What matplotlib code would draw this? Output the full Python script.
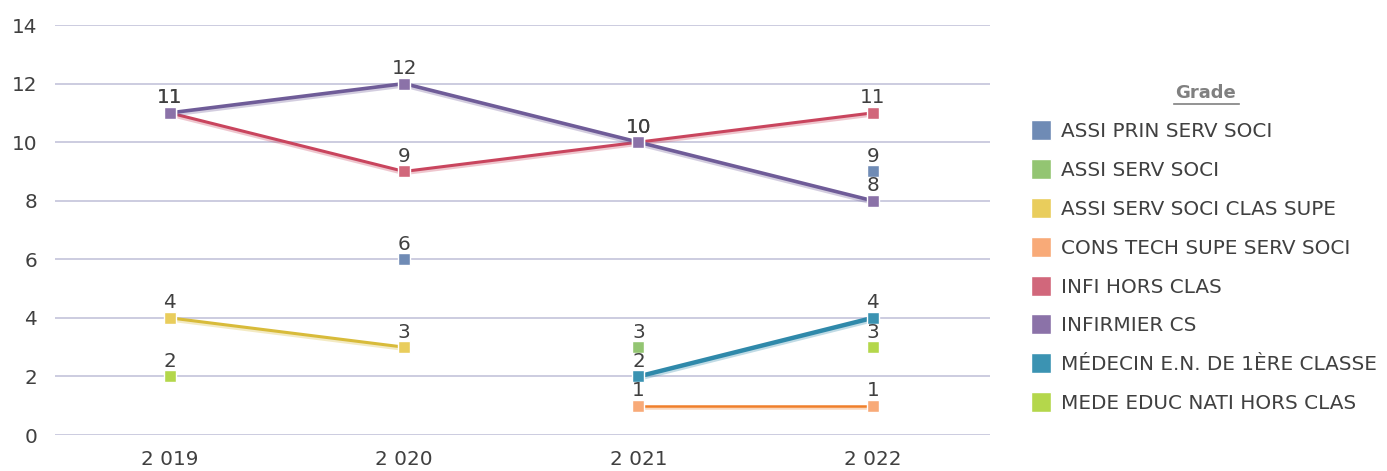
import numpy as np
import matplotlib
matplotlib.use("Agg")
import matplotlib.pyplot as plt
import matplotlib.patheffects as pe
from matplotlib.lines import Line2D

# data
years = ["2 019", "2 020", "2 021", "2 022"]
grades = ["ASSI PRIN SERV SOCI", "ASSI SERV SOCI", "ASSI SERV SOCI CLAS SUPE",
          "CONS TECH SUPE SERV SOCI", "INFI HORS CLAS", "INFIRMIER CS",
          "MÉDECIN E.N. DE 1ÈRE CLASSE", "MEDE EDUC NATI HORS CLAS"]
assi_prin = [np.nan, 6, np.nan, 9]
assi_serv = [np.nan, np.nan, 3, np.nan]
assi_clas_supe = [4, 3, np.nan, np.nan]
cons_tech = [np.nan, np.nan, 1, 1]
infi_hors = [11, 9, 10, 11]
infirmier_cs = [11, 12, 10, 8]
medecin = [np.nan, np.nan, 2, 4]
mede_educ = [2, np.nan, np.nan, 3]

series = [assi_prin, assi_serv, assi_clas_supe, cons_tech,
          infi_hors, infirmier_cs, medecin, mede_educ]
marker_colors = ["#6f8bb5", "#93c572", "#e9cd5c", "#f8aa78",
                 "#d1677b", "#8b72a8", "#3b93b2", "#b4d74b"]
line_colors = ["#5a78a8", "#7fb35c", "#d8bb3a", "#f07f2a",
               "#c9455e", "#6f5c98", "#2f89aa", "#a2c93a"]
line_widths = [2.2, 2.2, 2.2, 1.8, 2.2, 2.6, 3.2, 2.2]

TXT = "#404040"
FS = 14.4
plt.rcParams["font.family"] = ["DejaVu Sans"]

fig = plt.figure(figsize=(13.87, 4.71), dpi=100)
ax = fig.add_axes([0.0397, 0.0764, 0.674, 0.8705])

x = np.arange(len(years))
for vals, mc, lc, lw in zip(series, marker_colors, line_colors, line_widths):
    ax.plot(x, vals, color=lc, lw=lw, solid_capstyle="butt", zorder=3,
            path_effects=[pe.SimpleLineShadow(offset=(0, -1.6), shadow_color=lc, alpha=0.3),
                          pe.Normal()])
    ax.plot(x, vals, ls="none", marker="s", ms=8, mfc=mc, mec="white", mew=1, zorder=4)
    for xi, v in zip(x, vals):
        if not np.isnan(v):
            ax.annotate(f"{int(v)}", (xi, v), xytext=(0, 4), textcoords="offset points",
                        ha="center", va="bottom", fontsize=FS, color=TXT, zorder=5)

ax.set_xlim(-0.49, 3.5)
ax.set_ylim(0, 14)
ax.set_yticks(range(0, 15, 2))
ax.set_xticks(x)
ax.set_xticklabels(years)
ax.grid(axis="y", color="#c3c3da", lw=1.2)
ax.set_axisbelow(True)
for s in ax.spines.values():
    s.set_visible(False)
ax.tick_params(length=0, labelsize=FS, labelcolor=TXT)
ax.tick_params(axis="x", pad=11)
ax.tick_params(axis="y", pad=13)

# legend
handles = [Line2D([], [], ls="none", marker="s", ms=14, mfc=c, mec="white", mew=1)
           for c in marker_colors]
fig.legend(handles, grades, loc="upper left", bbox_to_anchor=(0.739, 0.757),
           frameon=False, fontsize=FS, labelcolor=TXT, handlelength=0.8,
           handletextpad=0.6, labelspacing=0.99, borderaxespad=0)
fig.text(0.8695, 0.802, "Grade", ha="center", va="center", fontsize=13,
         fontweight="bold", color="#808080")
fig.add_artist(Line2D([0.8465, 0.8935], [0.780, 0.780], color="#808080", lw=1.2))

fig.savefig("out.png", dpi=100)
